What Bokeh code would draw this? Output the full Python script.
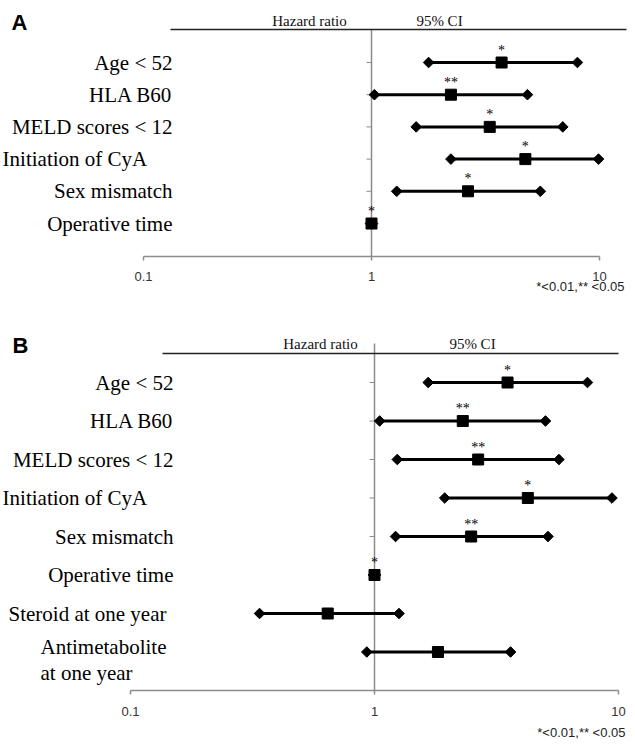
import math
from bokeh.plotting import figure
from bokeh.models import Range1d
from bokeh.layouts import column
from bokeh.core.properties import value
from bokeh.embed import file_html
from bokeh.resources import INLINE

# ---------------- data ----------------
categories_a = ["Age < 52", "HLA B60", "MELD scores < 12", "Initiation  of CyA",
                "Sex mismatch", "Operative time"]
hr_a = [3.72, 2.23, 3.30, 4.73, 2.65, 1.00]
lo_a = [1.78, 1.03, 1.57, 2.23, 1.29, 0.99]
hi_a = [8.00, 4.83, 6.90, 9.90, 5.50, 1.01]
sig_a = ["*", "**", "*", "*", "*", "*"]

categories_b = ["Age < 52", "HLA B60", "MELD scores < 12", "Initiation  of CyA",
                "Sex mismatch", "Operative time", "Steroid at one year",
                "Antimetabolite\nat one year"]
hr_b = [3.51, 2.30, 2.66, 4.25, 2.49, 1.00, 0.643, 1.82]
lo_b = [1.66, 1.05, 1.24, 1.94, 1.22, 0.99, 0.338, 0.93]
hi_b = [7.46, 5.02, 5.70, 9.40, 5.14, 1.01, 1.26, 3.61]
sig_b = ["*", "**", "**", "*", "**", "*", "", ""]

tick_values = [0.1, 1, 10]
tick_labels = ["0.1", "1", "10"]
header_left = "Hazard ratio"
header_right = "95% CI"
footnote = "*<0.01,** <0.05"

# ---------------- layout (pixels in the picture) ----------------
W = 627
layout_a = dict(letter="A", top=0, height=296, row0=62, step=32.2, axis_y=256,
                x01=143, x10=599, hline_y=29, hline_x=(170, 626), htext_y=20,
                hazard_x=309, ci_x=439, letter_xy=(11, 22), vtop=29,
                tick_label_dy=20, foot_xy=(624, 286),
                anchors=[(172, "right")] * 3 + [(152, "right")] + [(172, "right")] * 2)
layout_b = dict(letter="B", top=296, height=444, row0=382, step=38.5, axis_y=690,
                x01=130, x10=618, hline_y=353, hline_x=(162, 618), htext_y=343,
                hazard_x=320, ci_x=472, letter_xy=(12, 345), vtop=343,
                tick_label_dy=21, foot_xy=(625, 732),
                anchors=[(173, "right")] * 3 + [(152, "right")] + [(173, "right")] * 2
                + [(166, "right"), (40, "left")])

SERIF = "Liberation Serif"
SANS = "Liberation Sans"
GRAY = "#8c8c8c"


def make_panel(cats, lo, hr, hi, sig, L):
    dec = (L["x10"] - L["x01"]) / 2.0
    log_lo = -1 - L["x01"] / dec
    log_hi = log_lo + W / dec

    def X(px):
        return 10 ** (log_lo + px / dec)

    def Y(py):
        return (py - L["row0"]) / L["step"]

    p = figure(width=W, height=L["height"], x_axis_type="log",
               x_range=Range1d(10 ** log_lo, 10 ** log_hi),
               y_range=Range1d(Y(L["top"] + L["height"]), Y(L["top"])),
               x_axis_location=None, y_axis_location=None,
               toolbar_location=None, output_backend="svg",
               min_border_left=0, min_border_right=0, min_border_top=0,
               min_border_bottom=0)
    p.xgrid.visible = False
    p.ygrid.visible = False
    p.outline_line_color = None
    p.background_fill_color = "white"
    p.border_fill_color = "white"

    rows = list(range(len(cats)))
    ay = Y(L["axis_y"])

    # x axis (log): line, outward ticks, labels
    p.segment(x0=[tick_values[0]], x1=[tick_values[-1]], y0=[ay], y1=[ay],
              line_color=GRAY, line_width=1.5)
    p.segment(x0=tick_values, x1=tick_values, y0=[ay] * len(tick_values),
              y1=[Y(L["axis_y"] + 4)] * len(tick_values),
              line_color=GRAY, line_width=1.5)
    p.text(x=tick_values, y=[Y(L["axis_y"] + L["tick_label_dy"])] * len(tick_values),
           text=tick_labels, text_align="center", text_baseline="middle",
           text_font=value(SANS), text_font_size="13px", text_color="#333333")

    # reference line at HR = 1
    p.segment(x0=[1], x1=[1], y0=[Y(L["vtop"])], y1=[ay],
              line_color=GRAY, line_width=1.5)
    # small category ticks on the left of the reference line
    p.scatter(x=[10 ** (-2.5 / dec)] * len(rows), y=rows,
              marker="dash", size=5, line_color=GRAY, line_width=1)
    # header rule
    p.segment(x0=[X(L["hline_x"][0])], x1=[X(L["hline_x"][1])],
              y0=[Y(L["hline_y"])], y1=[Y(L["hline_y"])],
              line_color="#222222", line_width=1.3)

    # confidence intervals and hazard ratios
    p.segment(x0=lo, x1=hi, y0=rows, y1=rows, line_color="black", line_width=3)
    p.scatter(x=lo + hi, y=rows + rows, marker="square", angle=math.pi / 4,
              size=7.5, fill_color="black", line_color="black")
    p.scatter(x=hr, y=rows, marker="square", size=11,
              fill_color="black", line_color="black")
    p.text(x=hr, y=rows, text=sig, text_align="center", text_baseline="bottom",
           y_offset=-5, text_font=value(SERIF), text_font_size="14px",
           text_color="black")

    # row labels
    for i, (cat, (ax_px, align)) in enumerate(zip(cats, L["anchors"])):
        lines = cat.split("\n")
        base_py = L["row0"] + i * L["step"] - (5 if len(lines) > 1 else 0)
        p.text(x=[X(ax_px)] * len(lines),
               y=[Y(base_py + 26 * k) for k in range(len(lines))],
               text=lines, text_align=align, text_baseline="middle",
               text_font=value(SERIF), text_font_size="21px", text_color="black")

    # headers, panel letter, footnote
    p.text(x=[X(L["hazard_x"]), X(L["ci_x"])], y=[Y(L["htext_y"])] * 2,
           text=[header_left, header_right], text_align="center",
           text_baseline="middle", text_font=value(SERIF),
           text_font_size="15px", text_color="#111111")
    p.text(x=[X(L["letter_xy"][0])], y=[Y(L["letter_xy"][1])], text=[L["letter"]],
           text_align="left", text_baseline="middle", text_font=value(SANS),
           text_font_size="22px", text_font_style="bold", text_color="black")
    p.text(x=[X(L["foot_xy"][0])], y=[Y(L["foot_xy"][1])], text=[footnote],
           text_align="right", text_baseline="middle", text_font=value(SANS),
           text_font_size="13px", text_color="#222222")
    return p


pa = make_panel(categories_a, lo_a, hr_a, hi_a, sig_a, layout_a)
pb = make_panel(categories_b, lo_b, hr_b, hi_b, sig_b, layout_b)
page = column(pa, pb, spacing=0)

with open("out.html", "w") as f:
    f.write(file_html(page, INLINE))
